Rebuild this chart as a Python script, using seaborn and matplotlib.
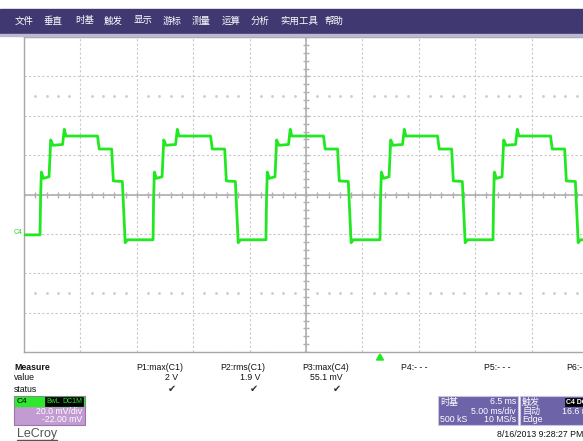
import numpy as np
import pandas as pd
import matplotlib
matplotlib.use("Agg")
import matplotlib.pyplot as plt
from matplotlib.patches import Rectangle, Polygon
import seaborn as sns

W, H = 583, 441

# ---- data (C4, 5 ms/div, 20 mV/div, offset -22 mV) ----
# rising edges of the trace, ms from the left edge of the grid
edge_ms = [1.42, 11.44, 21.45, 31.56, 41.58]
# one cycle of the stepped wave: time after a rising edge (ms) and level (mV)
step_dt = [0.00, 0.05, 0.12, 0.30, 0.80, 0.95, 1.15, 2.00, 2.15, 2.30,
           5.10, 5.25, 6.35, 6.50, 7.30, 7.45, 7.55, 7.75]
step_mv = [-1.0, 20.0, 33.4, 30.2, 31.0, 49.7, 47.0, 47.4, 55.1, 51.7,
           51.7, 45.1, 45.1, 28.9, 28.6, 10.0, -2.5, -1.0]
left_mv = 1.5          # level before the first edge
bottom_mv = -1.0

menu_items = ["文件", "垂直", "时基", "触发", "显示", "游标", "测量", "运算", "分析", "实用工具", "帮助"]
menu_x = [15, 44, 75, 104, 134, 163, 192, 222, 251, 280, 325]

params = ["P1:max(C1)", "P2:rms(C1)", "P3:max(C4)", "P4:- - -", "P5:- - -", "P6:-"]
param_x = [136, 220, 302, 401, 484, 566]
values = ["2 V", "1.9 V", "55.1 mV"]
value_x = [178, 260, 343]

# ---- build the trace from the breakpoints ----
t = [0.0, edge_ms[0]]
v = [left_mv, left_mv]
for i, e in enumerate(edge_ms):
    k = 1 if i == 0 else 0
    t += [e + d for d in step_dt[k:]]
    v += step_mv[k:]
t.append(50.0)
v.append(bottom_mv)
df = pd.DataFrame({"t": t, "mv": v})

sns.set_style("white")
plt.rcParams["font.family"] = ["Liberation Sans", "DejaVu Sans"]
CJK = ["Noto Sans CJK SC", "DejaVu Sans"]

fig = plt.figure(figsize=(W / 100, H / 100), dpi=100)
fig.patch.set_facecolor("white")


def fx(x):
    return x / W


def fy(y):
    return 1 - y / H


def rect(x0, y0, x1, y1, **kw):
    fig.patches.append(Rectangle((fx(x0), fy(y1)), (x1 - x0) / W, (y1 - y0) / H,
                                 transform=fig.transFigure, **kw))


def txt(x, y, s, **kw):
    kw.setdefault("fontsize", 6.3)
    kw.setdefault("va", "center")
    fig.text(fx(x), fy(y), s, **kw)


# grid area
ax = fig.add_axes([fx(24), fy(352), 564 / W, 315 / H])
ax.set_xlim(0, 50)
ax.set_ylim(-58, 102)
ax.set_xticks(np.arange(0, 51, 5))
ax.set_yticks(np.arange(-58, 103, 20))
ax.grid(True, color="#c8c8c8", ls=(0, (2, 2)), lw=0.8)
ax.tick_params(length=0, labelbottom=False, labelleft=False)
for s in ax.spines.values():
    s.set_color("#a8a8a8")
    s.set_linewidth(1.0)

# center cross with tick marks
ax.axhline(22, color="#b0b0b0", lw=1.2, zorder=1)
ax.axvline(25, color="#b0b0b0", lw=1.2, zorder=1)
ax.plot(np.arange(0, 50.1, 1), np.full(51, 22.0), ls="none", marker="|",
        ms=4, mew=1, color="#b0b0b0", zorder=1)
ax.plot(np.full(41, 25.0), np.arange(-58, 102.1, 4), ls="none", marker="_",
        ms=4, mew=1, color="#b0b0b0", zorder=1)
dots_x = [i for i in range(1, 50) if i % 5]
for yy in (72, -28):
    ax.plot(dots_x, [yy] * len(dots_x), ls="none", marker="s", ms=0.9,
            color="#cccccc", zorder=1)

sns.lineplot(data=df, x="t", y="mv", sort=False, estimator=None,
             color="#22e822", lw=2.0, ax=ax, zorder=3)
ax.set_xlabel("")
ax.set_ylabel("")

# C4 ground marker
txt(14, 233, "C4", fontsize=5, color="#22d822")

# menu bar
rect(0, 9, 583, 33, color="#3f3871")
rect(0, 34, 583, 35.5, color="#bdb8d6")
for s, x in zip(menu_items, menu_x):
    txt(x, 21, s, fontsize=6.8, color="white", family=CJK)

# trigger position marker
fig.patches.append(Polygon([(fx(376.5), fy(360)), (fx(383.5), fy(360)), (fx(380), fy(354))],
                           closed=True, transform=fig.transFigure, color="#22e822"))

# measure table
txt(14, 367, "Measure", fontweight="bold", color="#111111")
txt(14, 378, "value", color="#111111")
txt(14, 389, "status", color="#111111")
for s, x in zip(params, param_x):
    txt(x, 367, s, color="#111111")
for s, x in zip(values, value_x):
    txt(x, 378, s, ha="right", color="#111111")
    txt(x - 2, 389, "✔", ha="right", fontsize=7, color="#333333", family=["DejaVu Sans"])

# channel box
rect(13.5, 396, 84.5, 424.5, fc="#c39bd3", ec="#9a74ab", lw=0.8)
rect(14.5, 397, 83.5, 405.5, color="#2ee82e")
txt(17, 401.3, "C4", fontsize=6, color="black")
txt(46, 401.3, "BwL", fontsize=5, color="#2ee82e",
    bbox=dict(boxstyle="square,pad=0.12", fc="black", ec="black", lw=0.5))
txt(62, 401.3, "DC1M", fontsize=5, color="#2ee82e",
    bbox=dict(boxstyle="square,pad=0.12", fc="black", ec="black", lw=0.5))
txt(82, 411, "20.0 mV/div", ha="right", color="white")
txt(82, 420, "-22.00 mV", ha="right", color="white")
txt(17, 434.5, "LeCroy", fontsize=9, color="#555555")
rect(17, 440, 57, 441, color="#555555")

# timebase box
rect(438, 396, 518, 425, fc="#6d63a8", ec="#c9c4e2", lw=0.8)
txt(440, 402, "时基", fontsize=6.5, color="white", family=CJK)
txt(516, 402, "6.5 ms", ha="right", color="white")
txt(516, 411, "5.00 ms/div", ha="right", color="white")
txt(440, 420, "500 kS", color="white")
txt(516, 420, "10 MS/s", ha="right", color="white")

# trigger box
rect(520, 396, 592, 425, fc="#6d63a8", ec="#c9c4e2", lw=0.8)
txt(522, 402, "触发", fontsize=6.5, color="white", family=CJK)
txt(566, 402, "C4 DC", fontsize=5, color="white", fontweight="bold",
    bbox=dict(boxstyle="square,pad=0.12", fc="black", ec="black", lw=0.5))
txt(522, 411, "自动", fontsize=6.5, color="white", family=CJK)
txt(562, 411, "16.6 mV", color="white")
txt(522, 420, "Edge", color="white")

txt(497, 434.5, "8/16/2013 9:28:27 PM", color="#111111")

fig.savefig("out.png", dpi=100)
